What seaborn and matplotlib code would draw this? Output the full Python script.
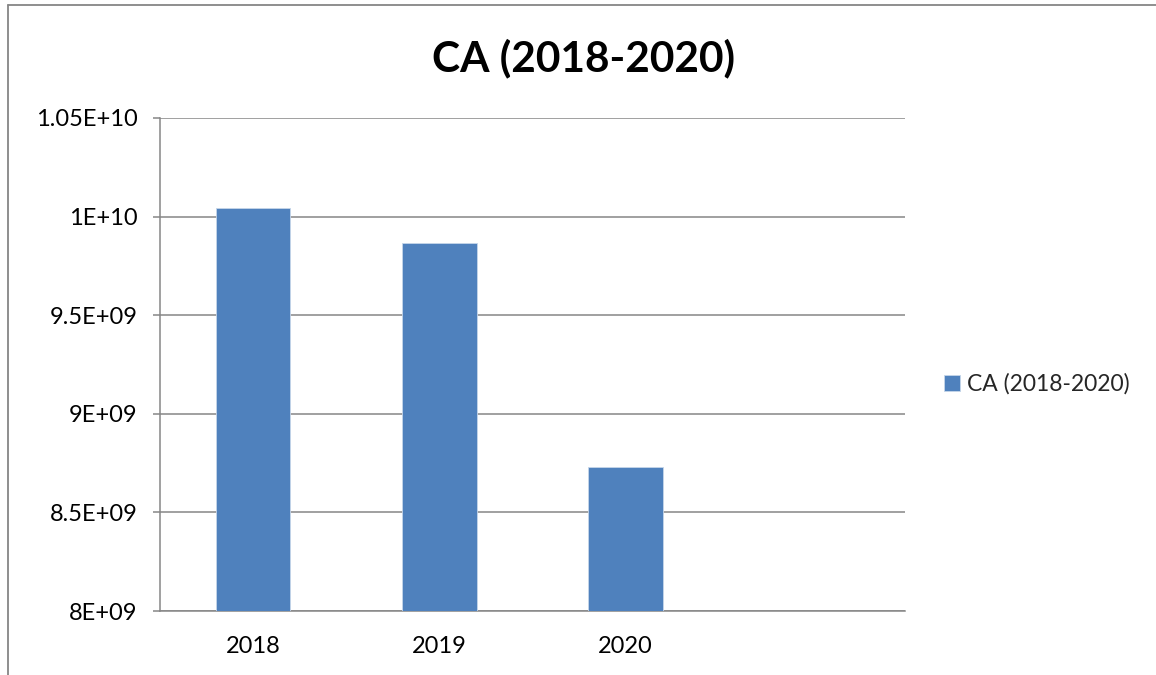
import matplotlib
matplotlib.use("Agg")
import matplotlib.pyplot as plt
from matplotlib.lines import Line2D
from matplotlib.ticker import FixedLocator, FuncFormatter
import seaborn as sns

# Chiffre d'affaires par année
years = ["2018", "2019", "2020"]
revenue = [1.0042e10, 9.865e9, 8.729e9]
series_name = "CA (2018-2020)"
y_ticks = [8.0e9, 8.5e9, 9.0e9, 9.5e9, 1.0e10, 1.05e10]

BAR_COLOR = "#4F81BD"
GRID_COLOR = "#868686"

sns.set_theme(style="white")
plt.rcParams["font.family"] = ["Lato", "DejaVu Sans"]

fig = plt.figure(figsize=(11.56, 6.75), dpi=100)
ax = fig.add_axes([160 / 1156, 1 - 611 / 675, (905 - 160) / 1156, (611 - 118) / 675])

sns.barplot(x=years, y=revenue, color=BAR_COLOR, saturation=1, width=0.4, ax=ax,
            edgecolor="#c6d6ea", linewidth=0.6, label=series_name, zorder=3)

# four category slots, the last one empty
ax.set_xlim(-0.5, 3.5)
ax.set_ylim(y_ticks[0], y_ticks[-1])


def excel_general(v, _pos=None):
    mant, exp = f"{v:.2E}".split("E")
    mant = mant.rstrip("0").rstrip(".")
    return f"{mant}E{exp}"


ax.yaxis.set_major_locator(FixedLocator(y_ticks))
ax.yaxis.set_major_formatter(FuncFormatter(excel_general))
ax.yaxis.grid(True, color=GRID_COLOR, linewidth=1.1, zorder=0)
ax.set_axisbelow(True)

# category labels centred, tick marks on the slot boundaries
ax.set_xticks(range(len(years)))
ax.set_xticklabels(years)
ax.set_xticks([-0.5, 0.5, 1.5, 2.5, 3.5], minor=True)
ax.tick_params(axis="x", which="major", length=0, pad=18, labelsize=17, labelcolor="black")
ax.tick_params(axis="x", which="minor", length=6, width=1.1, color=GRID_COLOR, direction="out")
ax.tick_params(axis="y", which="major", length=5, width=1.1, color=GRID_COLOR,
               direction="out", pad=11, labelsize=17, labelcolor="black", left=True)
ax.set_xlabel("")
ax.set_ylabel("")

for side in ("top", "right"):
    ax.spines[side].set_visible(False)
for side in ("left", "bottom"):
    ax.spines[side].set_color(GRID_COLOR)
    ax.spines[side].set_linewidth(1.1)

fig.text(584 / 1156, 1 - 58 / 675, series_name, ha="center", va="center",
         fontsize=30.5, fontweight="bold", color="black")

handles, labels = ax.get_legend_handles_labels()
if ax.get_legend() is not None:
    ax.get_legend().remove()
fig.legend(handles[:1], labels[:1], loc="center left",
           bbox_to_anchor=(923 / 1156, 1 - 384 / 675), frameon=False,
           handlelength=0.7, handleheight=0.7, handletextpad=0.3, fontsize=16.5)

# chart frame (top and left edges)
fig.add_artist(Line2D([8 / 1156, 1.0], [1 - 5 / 675, 1 - 5 / 675], transform=fig.transFigure,
                      color=GRID_COLOR, linewidth=1.3))
fig.add_artist(Line2D([8 / 1156, 8 / 1156], [0.0, 1 - 5 / 675], transform=fig.transFigure,
                      color=GRID_COLOR, linewidth=1.3))

fig.savefig("out.png", dpi=100, facecolor="white")
